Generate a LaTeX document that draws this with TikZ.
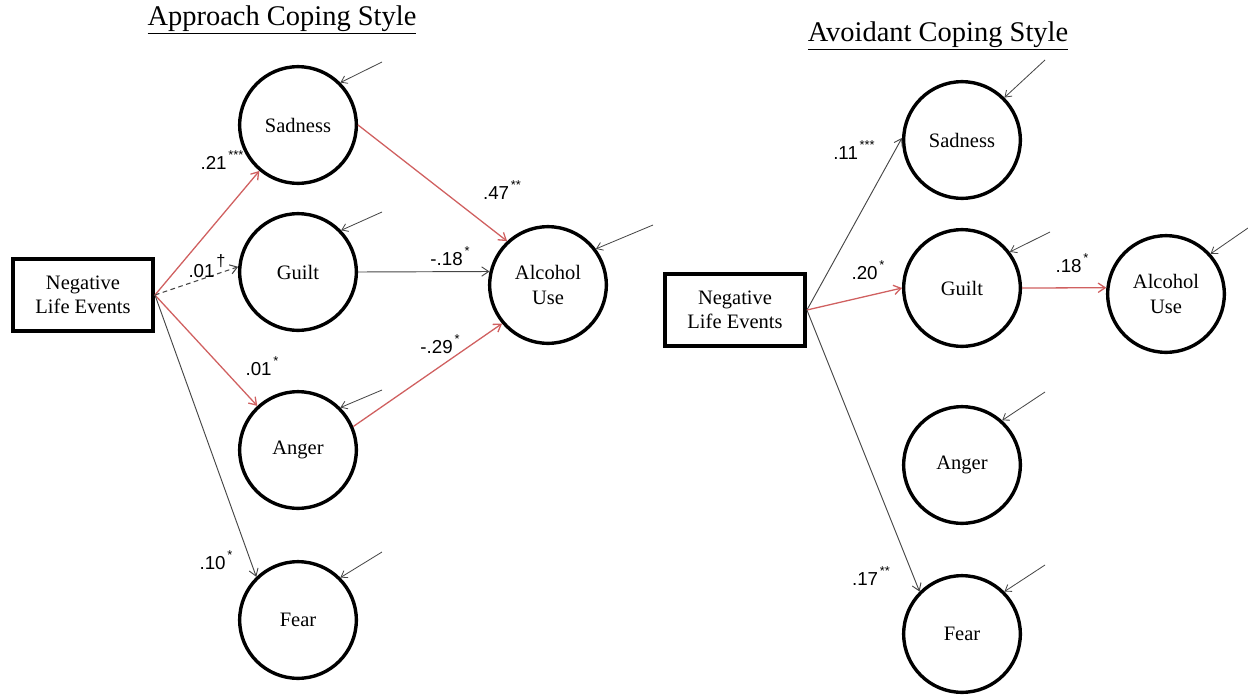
\documentclass[tikz,border=0pt]{standalone}
\usepackage{fontspec}
\setmainfont{Liberation Serif}
\newfontfamily\lblfont{Liberation Sans}
\usetikzlibrary{arrows.meta}
\definecolor{pathred}{RGB}{208,96,96}
\definecolor{pathgray}{RGB}{70,70,70}
\newcommand{\sigmark}[1]{\hspace{1.5pt}\raisebox{1.05ex}{\fontsize{11}{11}\selectfont #1}}
\tikzset{
  latent/.style={circle, draw=black, line width=2.9pt, minimum size=3.5cm, inner sep=0pt, align=center, font=\fontsize{17.5}{21}\selectfont},
  obsbox/.style={rectangle, draw=black, line width=3.3pt, minimum width=4.2cm, minimum height=2.15cm, align=center, font=\fontsize{17.5}{21}\selectfont},
  pth/.style={line width=0.8pt, draw=pathgray, -{Straight Barb[length=6pt,width=8pt]}},
  redpth/.style={line width=1.1pt, draw=pathred, -{Straight Barb[length=6pt,width=8pt]}},
  dashpth/.style={line width=0.9pt, draw=pathgray, dash pattern=on 4pt off 3pt, -{Straight Barb[length=6pt,width=8pt]}},
  err/.style={line width=0.7pt, draw=pathgray, -{Straight Barb[length=5pt,width=7pt]}},
  coef/.style={font=\lblfont\fontsize{16}{18}\selectfont, inner sep=0pt},
  ttl/.style={font=\fontsize{24.3}{28}\selectfont, inner sep=0pt},
}
\begin{document}
\begin{tikzpicture}[x=0.03cm,y=-0.03cm]
\useasboundingbox (0,0) rectangle (1248,698);
% ---------- Left: Approach ----------
\node[ttl] (titleL) at (282,20) {\underline{Approach Coping Style}};
\node[obsbox] (nleL) at (83,295) {Negative\\Life Events};
\node[latent] (sadL) at (298,125) {Sadness};
\node[latent] (guiL) at (298,272) {Guilt};
\node[latent] (angL) at (298,450) {Anger};
\node[latent] (feaL) at (298,620) {Fear};
\node[latent] (alcL) at (548,285) {Alcohol\\Use};

\draw[redpth] (nleL.east) -- (sadL);
\draw[dashpth] (nleL.east) -- (guiL.175);
\draw[redpth] (nleL.east) -- (angL);
\draw[pth] (nleL.east) -- (feaL.134);
\draw[redpth] (sadL.east) -- (alcL.133);
\draw[pth] (guiL.east) -- (alcL.167);
\draw[redpth] (angL.23) -- (alcL.220);

\node[coef] (c1) at (222,160) {.21\sigmark{***}};
\node[coef] (c2) at (207,266) {.01\sigmark{\fontsize{14}{14}\selectfont\dag}};
\node[coef] (c3) at (262,366) {.01\sigmark{*}};
\node[coef] (c4) at (216,560) {.10\sigmark{*}};
\node[coef] (c5) at (502,190) {.47\sigmark{**}};
\node[coef] (c6) at (450,256) {-.18\sigmark{*}};
\node[coef] (c7) at (440,344) {-.29\sigmark{*}};

\coordinate (eSadL) at (382,62);
\coordinate (eGuiL) at (382,212);
\coordinate (eAngL) at (382,390);
\coordinate (eFeaL) at (382,552);
\coordinate (eAlcL) at (653,225);
\draw[err] (eSadL) -- (sadL.45);
\draw[err] (eGuiL) -- (guiL.44);
\draw[err] (eAngL) -- (angL.45);
\draw[err] (eFeaL) -- (feaL.45);
\draw[err] (eAlcL) -- (alcL.37);

% ---------- Right: Avoidant ----------
\node[ttl] (titleR) at (938,36) {\underline{Avoidant Coping Style}};
\node[obsbox] (nleR) at (735,310) {Negative\\Life Events};
\node[latent] (sadR) at (962,140) {Sadness};
\node[latent] (guiR) at (962,288) {Guilt};
\node[latent] (angR) at (962,465) {Anger};
\node[latent] (feaR) at (962,634) {Fear};
\node[latent] (alcR) at (1166,294) {Alcohol\\Use};

\draw[pth] (nleR.east) -- (sadR.178);
\draw[redpth] (nleR.east) -- (guiR.180);
\draw[pth] (nleR.east) -- (feaR.135);
\draw[redpth] (guiR.east) -- (alcR.174);

\node[coef] (d1) at (854,150) {.11\sigmark{***}};
\node[coef] (d2) at (868,270) {.20\sigmark{*}};
\node[coef] (d3) at (871,576) {.17\sigmark{**}};
\node[coef] (d4) at (1072,263) {.18\sigmark{*}};

\coordinate (eSadR) at (1045,60);
\coordinate (eGuiR) at (1050,232);
\coordinate (eAngR) at (1045,392);
\coordinate (eFeaR) at (1045,565);
\coordinate (eAlcR) at (1248,228);
\draw[err] (eSadR) -- (sadR.45);
\draw[err] (eGuiR) -- (guiR.37);
\draw[err] (eAngR) -- (angR.48);
\draw[err] (eFeaR) -- (feaR.45);
\draw[err] (eAlcR) -- (alcR.42);
\end{tikzpicture}
\end{document}
